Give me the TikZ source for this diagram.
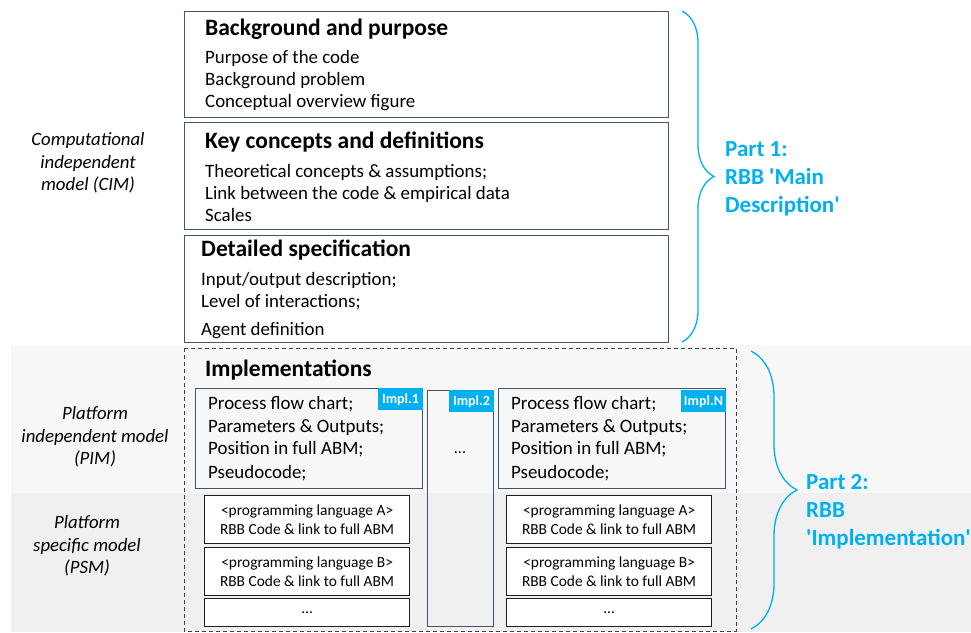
\documentclass[tikz,border=0pt]{standalone}
\usepackage{fontspec}
\setmainfont{Carlito}
\usepackage{tikz}
\usetikzlibrary{positioning,decorations.pathreplacing}
\definecolor{Frame}{HTML}{44546A}
\definecolor{Sky}{HTML}{00B0F0}
\definecolor{PimBand}{HTML}{F7F7F7}
\definecolor{PsmBand}{HTML}{F0F0F0}
\definecolor{Ink}{HTML}{1E1E1E}

\begin{document}
\begin{tikzpicture}[x=1pt,y=-1pt,
  box/.style={draw=Frame,line width=1.2pt,anchor=north west,inner sep=0pt},
  codebox/.style={draw=Ink,line width=1.2pt,fill=white,anchor=north west,inner sep=0pt,
    minimum width=205,minimum height=48,align=center,font=\fontsize{15.4}{19}\selectfont},
  head/.style={anchor=base west,inner sep=0pt,font=\fontsize{23.5}{26}\selectfont\bfseries},
  item/.style={anchor=base west,inner sep=0pt,font=\fontsize{18.9}{22}\selectfont},
  layer/.style={align=center,font=\fontsize{18.8}{22.5}\selectfont\itshape},
  tag/.style={fill=Sky,text=white,anchor=north east,inner sep=0pt,minimum width=45,
    minimum height=22,font=\fontsize{14}{14}\selectfont\bfseries},
  part/.style={anchor=west,align=left,inner sep=0pt,text=Sky,font=\fontsize{23}{28}\selectfont\bfseries},
  partbrace/.style={Sky,line width=1.3pt,decorate}]
  \useasboundingbox (0,0) rectangle (971,632);

  % PIM / PSM bands
  \fill[PimBand] (11,345) rectangle (971,493);
  \fill[PsmBand] (11,493) rectangle (971,632);

  % main description
  \node[box,minimum width=484,minimum height=106] (bg) at (184,11) {};
  \node[head] (bgT) at (205,35) {Background and purpose};
  \node[item] (bg1) at (205,63) {Purpose of the code};
  \node[item] (bg2) at (205,85) {Background problem};
  \node[item] (bg3) at (205,107) {Conceptual overview figure};

  \node[box,minimum width=484,minimum height=107] (kc) at (184,122) {};
  \node[head] (kcT) at (205,148) {Key concepts and definitions};
  \node[item] (kc1) at (205,177) {Theoretical concepts \& assumptions;};
  \node[item] (kc2) at (205,199) {Link between the code \& empirical data};
  \node[item] (kc3) at (205,221) {Scales};

  \node[box,minimum width=484,minimum height=107] (ds) at (184,235) {};
  \node[head] (dsT) at (201,256) {Detailed specification};
  \node[item] (ds1) at (201,285) {Input/output description;};
  \node[item] (ds2) at (201,307) {Level of interactions;};
  \node[item] (ds3) at (201,335) {Agent definition};

  % implementations
  \draw[Ink!85,line width=1pt,dash pattern=on 4pt off 3pt] (184,348) rectangle (736,631);
  \node[head] (implT) at (205,376) {Implementations};

  \node[box,minimum width=227,minimum height=100] (impl1) at (195,388) {};
  \node[tag] (tag1) at (impl1.north east) {Impl.1};
  \node[item] (i11) at (208,409) {Process flow chart;};
  \node[item] (i12) at (208,432) {Parameters \& Outputs;};
  \node[item] (i13) at (208,454) {Position in full ABM;};
  \node[item] (i14) at (208,478) {Pseudocode;};

  \node[box,minimum width=66,minimum height=236] (impl2) at (427,390) {};
  \node[tag] (tag2) at (impl2.north east) {Impl.2};
  \node[font=\fontsize{16}{20}\selectfont] (dots2) at (460,453) {...};

  \node[box,minimum width=227,minimum height=100] (implN) at (498,388) {};
  \node[tag] (tagN) at ([yshift=-2pt]implN.north east) {Impl.N};
  \node[item] (iN1) at (511,409) {Process flow chart;};
  \node[item] (iN2) at (511,432) {Parameters \& Outputs;};
  \node[item] (iN3) at (511,454) {Position in full ABM;};
  \node[item] (iN4) at (511,478) {Pseudocode;};

  % code per language
  \node[codebox] (codeA1) at (204,495) {<programming language A>\\RBB Code \& link to full ABM};
  \node[codebox] (codeB1) at (204,547) {<programming language B>\\RBB Code \& link to full ABM};
  \node[codebox,minimum height=28] (codeX1) at (204,598) {...};
  \node[codebox] (codeAN) at (506,495) {<programming language A>\\RBB Code \& link to full ABM};
  \node[codebox] (codeBN) at (506,547) {<programming language B>\\RBB Code \& link to full ABM};
  \node[codebox,minimum height=28] (codeXN) at (506,598) {...};

  % model layers on the left
  \node[layer] (cim) at (88,163) {Computational\\independent\\model (CIM)};
  \node[layer] (pim) at (95,437) {Platform\\independent model\\(PIM)};
  \node[layer] (psm) at (87,546) {Platform\\specific model\\(PSM)};

  % the two parts
  \draw[partbrace,decoration={brace,amplitude=32pt}] (682,11) -- (682,342);
  \node[part] (part1) at (725,179) {Part 1:\\RBB \textquotesingle Main\\Description\textquotesingle};
  \draw[partbrace,decoration={brace,amplitude=46pt}] (751,351) -- (751,629);
  \node[part] (part2) at (806,512) {Part 2:\\RBB\\\textquotesingle Implementation\textquotesingle};
\end{tikzpicture}
\end{document}
